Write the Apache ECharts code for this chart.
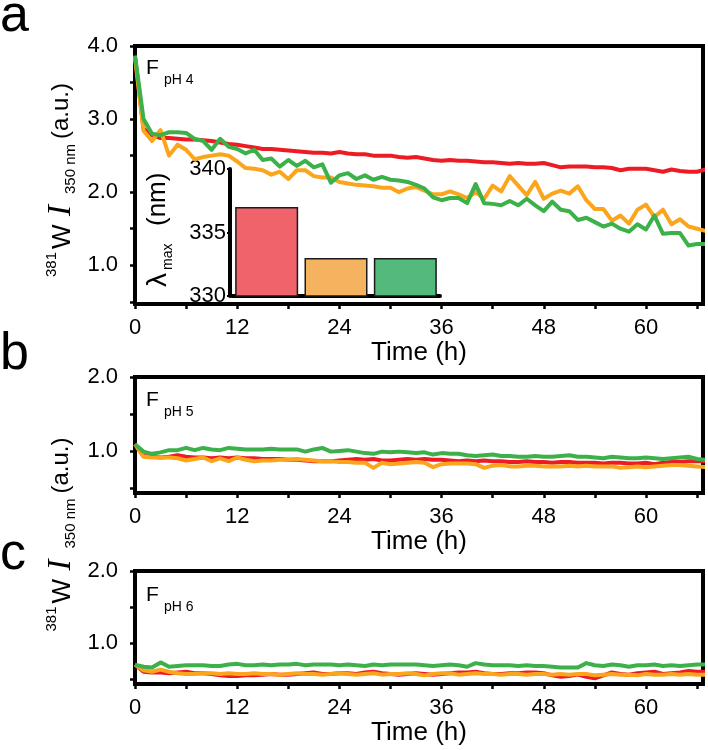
<!DOCTYPE html>
<html><head><meta charset="utf-8">
<script src="https://cdn.jsdelivr.net/npm/echarts@6/dist/echarts.min.js"></script>
<style>html,body{margin:0;padding:0;background:#fff}#c{width:708px;height:750px}</style>
</head><body><div id="c"></div>
<script>
const hours = [0,1,2,3,4,5,6,7,8,9,10,11,12,13,14,15,16,17,18,19,20,21,22,23,24,25,26,27,28,29,30,31,32,33,34,35,36,37,38,39,40,41,42,43,44,45,46,47,48,49,50,51,52,53,54,55,56,57,58,59,60,61,62,63,64,65,66,67];

const aRed = [3.85,2.87,2.78,2.74,2.74,2.73,2.72,2.72,2.71,2.70,
 2.68,2.66,2.65,2.63,2.61,2.59,2.59,2.58,2.57,2.56,
 2.55,2.54,2.54,2.53,2.55,2.53,2.52,2.52,2.50,2.50,
 2.50,2.48,2.47,2.48,2.46,2.44,2.43,2.44,2.43,2.43,
 2.42,2.41,2.41,2.40,2.39,2.40,2.39,2.39,2.40,2.37,
 2.34,2.35,2.35,2.35,2.34,2.34,2.33,2.30,2.32,2.32,
 2.32,2.30,2.28,2.31,2.29,2.28,2.28,2.31];
const aOrange = [3.85,2.84,2.70,2.85,2.50,2.65,2.58,2.45,2.48,2.50,
 2.52,2.50,2.42,2.33,2.32,2.30,2.24,2.28,2.18,2.30,
 2.30,2.22,2.20,2.20,2.14,2.12,2.10,2.09,2.08,2.06,
 2.06,2.00,2.05,2.07,2.02,1.97,1.97,2.01,1.97,1.92,
 2.00,1.91,2.09,2.01,2.22,2.09,1.96,2.14,1.91,1.98,
 2.02,1.98,2.08,1.89,1.77,1.77,1.61,1.68,1.57,1.76,
 1.83,1.66,1.76,1.56,1.63,1.53,1.50,1.47];
const aGreen = [3.87,3.00,2.80,2.78,2.82,2.82,2.81,2.73,2.70,2.58,
 2.73,2.62,2.59,2.53,2.58,2.44,2.46,2.35,2.44,2.36,
 2.43,2.34,2.38,2.13,2.23,2.26,2.18,2.23,2.17,2.21,
 2.17,2.16,2.14,2.10,2.05,1.93,1.89,1.92,1.92,1.85,
 2.11,1.85,1.84,1.82,1.88,1.82,1.91,1.82,1.74,1.87,
 1.76,1.74,1.62,1.65,1.59,1.53,1.57,1.50,1.46,1.56,
 1.49,1.68,1.43,1.44,1.44,1.27,1.29,1.29];

const bRed = [1.09,0.93,0.92,0.91,0.92,0.94,0.92,0.91,0.91,0.90,
 0.91,0.90,0.91,0.90,0.90,0.89,0.89,0.89,0.88,0.88,
 0.87,0.86,0.86,0.86,0.87,0.88,0.89,0.88,0.89,0.87,
 0.87,0.88,0.89,0.88,0.89,0.88,0.88,0.87,0.86,0.87,
 0.86,0.87,0.86,0.86,0.85,0.85,0.86,0.85,0.85,0.84,
 0.85,0.85,0.84,0.84,0.84,0.83,0.84,0.84,0.83,0.83,
 0.84,0.82,0.84,0.85,0.85,0.86,0.86,0.86];
const bOrange = [1.09,0.92,0.91,0.91,0.91,0.90,0.87,0.89,0.91,0.86,
 0.90,0.86,0.91,0.88,0.86,0.87,0.87,0.88,0.88,0.89,
 0.88,0.87,0.86,0.86,0.85,0.85,0.84,0.84,0.77,0.84,
 0.82,0.83,0.84,0.85,0.84,0.78,0.82,0.83,0.83,0.83,
 0.82,0.77,0.80,0.81,0.79,0.79,0.80,0.80,0.79,0.79,
 0.79,0.80,0.79,0.80,0.79,0.79,0.79,0.77,0.78,0.79,
 0.78,0.79,0.80,0.81,0.81,0.80,0.79,0.78];
const bGreen = [1.09,0.99,0.96,0.98,1.01,1.01,1.04,1.01,1.04,1.02,
 1.01,1.04,1.03,1.02,1.02,1.02,1.03,1.02,1.02,1.02,
 0.99,1.02,1.04,0.99,1.00,1.01,0.99,0.97,0.96,0.99,
 0.98,0.99,0.98,0.97,0.98,0.95,0.97,0.96,0.96,0.94,
 0.93,0.94,0.95,0.93,0.93,0.92,0.92,0.93,0.92,0.92,
 0.93,0.94,0.92,0.92,0.91,0.90,0.92,0.91,0.90,0.90,
 0.91,0.90,0.89,0.90,0.91,0.92,0.89,0.88];

const cRed = [0.70,0.60,0.59,0.59,0.58,0.59,0.60,0.58,0.58,0.57,
 0.55,0.54,0.54,0.55,0.55,0.56,0.57,0.56,0.56,0.57,
 0.58,0.59,0.57,0.57,0.58,0.58,0.57,0.59,0.60,0.58,
 0.57,0.56,0.57,0.58,0.57,0.56,0.57,0.58,0.59,0.59,
 0.60,0.58,0.57,0.57,0.58,0.58,0.59,0.59,0.58,0.55,
 0.53,0.54,0.56,0.53,0.51,0.55,0.59,0.57,0.56,0.58,
 0.59,0.60,0.57,0.58,0.59,0.61,0.60,0.60];
const cOrange = [0.70,0.62,0.60,0.63,0.60,0.58,0.57,0.57,0.58,0.58,
 0.57,0.58,0.57,0.57,0.58,0.57,0.57,0.56,0.57,0.58,
 0.57,0.57,0.56,0.57,0.58,0.57,0.56,0.57,0.58,0.56,
 0.57,0.57,0.58,0.57,0.55,0.57,0.58,0.58,0.56,0.57,
 0.58,0.57,0.57,0.56,0.57,0.57,0.56,0.57,0.57,0.56,
 0.57,0.56,0.57,0.57,0.55,0.56,0.57,0.56,0.56,0.55,
 0.57,0.56,0.56,0.57,0.56,0.57,0.56,0.56];
const cGreen = [0.70,0.67,0.66,0.73,0.67,0.68,0.69,0.69,0.69,0.68,
 0.68,0.70,0.71,0.69,0.69,0.70,0.69,0.70,0.70,0.71,
 0.69,0.70,0.70,0.70,0.69,0.70,0.69,0.68,0.70,0.69,
 0.70,0.70,0.70,0.70,0.69,0.68,0.69,0.70,0.69,0.67,
 0.72,0.70,0.69,0.69,0.69,0.68,0.69,0.68,0.68,0.67,
 0.66,0.66,0.66,0.72,0.69,0.68,0.70,0.69,0.67,0.69,
 0.69,0.70,0.68,0.69,0.68,0.69,0.70,0.70];

const insetCats = ['red', 'orange', 'green'];
const insetLambda = [337.0, 333.0, 333.0];

const xLabelTicks = [0, 12, 24, 36, 48, 60];
const xTickMarks = [0, 6, 12, 18, 24, 30, 36, 42, 48, 54, 60, 66];
const yLabelsA = [1, 2, 3, 4];
const yTicksA = [0.5, 1, 1.5, 2, 2.5, 3, 3.5, 4];
const yLabelsBC = [1, 2];
const yTicksBC = [0.5, 1, 1.5, 2];

const LINE_COLORS = ['#ed1c24', '#fba51c', '#3cb14a'];
const BAR_COLORS = ['#f0636a', '#f6b35f', '#54ba7c'];
const FONT = '"Liberation Sans", Arial, sans-serif';

const chart = echarts.init(document.getElementById('c'), null, {renderer: 'canvas'});

function xAx(grid) {
  return {
    type: 'value', gridIndex: grid, min: 0, max: 66.7,
    axisLine: {show: true, onZero: false, lineStyle: {color: '#000', width: 4}},
    axisTick: {show: true, customValues: xTickMarks, length: 5, lineStyle: {color: '#000', width: 2.5}},
    axisLabel: {customValues: xLabelTicks, color: '#000', fontSize: 22, fontFamily: FONT, margin: 13},
    splitLine: {show: false},
    name: 'Time (h)', nameLocation: 'middle', nameGap: 34,
    nameTextStyle: {color: '#000', fontSize: 26, fontFamily: FONT}
  };
}
function yAx(grid, min, max, labels, ticks) {
  return {
    type: 'value', gridIndex: grid, min: min, max: max,
    axisLine: {show: true, onZero: false, lineStyle: {color: '#000', width: 4}},
    axisTick: {show: true, customValues: ticks, length: 5, lineStyle: {color: '#000', width: 2.5}},
    axisLabel: {customValues: labels, formatter: v => Number(v).toFixed(1), color: '#000', fontSize: 22, fontFamily: FONT, margin: 17},
    splitLine: {show: false}
  };
}
function pairs(vals) { return hours.map((h, i) => [h, vals[i]]); }
function lineSeries(vals, colorIdx, xi, yi) {
  return {
    type: 'line', xAxisIndex: xi, yAxisIndex: yi, data: pairs(vals),
    symbol: 'none', showSymbol: false, clip: true, animation: false,
    lineStyle: {color: LINE_COLORS[colorIdx], width: 4, join: 'round'},
    z: 3 + colorIdx
  };
}

function txt(x, y, text, size, extra) {
  return {
    type: 'text', x: x, y: y, z: 100,
    style: Object.assign({text: text, fill: '#000', font: size + 'px ' + FONT, align: 'left', verticalAlign: 'middle'}, extra || {})
  };
}
function serif(x, y, text, size) {
  return {type: 'text', x: x, y: y, z: 100,
    style: {text: text, fill: '#000', font: 'italic ' + size + 'px "Liberation Serif", "Times New Roman", serif', align: 'left', verticalAlign: 'middle'}};
}
function yTitle(cx, cy) {
  return {
    type: 'group', x: cx, y: cy, rotation: Math.PI / 2, z: 100,
    children: [
      txt(-97, -20, '381', 15),
      txt(-69, -9, 'W', 26),
      serif(-36, -11, 'I', 33),
      txt(-14, -1.5, '350 nm', 15),
      txt(41, -10.5, '(a.u.)', 24)
    ]
  };
}

const gridFrame = {show: true, borderColor: '#000', borderWidth: 4, backgroundColor: 'transparent'};

const option = {
  backgroundColor: '#fff',
  animation: false,
  grid: [
    Object.assign({left: 135, top: 46, width: 568, height: 258}, gridFrame),
    {left: 232, top: 169, width: 208, height: 127},
    Object.assign({left: 135, top: 377, width: 568, height: 116}, gridFrame),
    Object.assign({left: 135, top: 571, width: 568, height: 113}, gridFrame)
  ],
  xAxis: [
    xAx(0),
    {type: 'category', gridIndex: 1, data: insetCats, boundaryGap: true,
     axisLine: {show: true, lineStyle: {color: '#000', width: 4}}, axisTick: {show: false}, axisLabel: {show: false}, splitLine: {show: false}},
    xAx(2),
    xAx(3)
  ],
  yAxis: [
    yAx(0, 0.47, 4.0, yLabelsA, yTicksA),
    {type: 'value', gridIndex: 1, min: 330, max: 340, interval: 5, offset: 2,
     axisLine: {show: true, lineStyle: {color: '#000', width: 4}},
     axisTick: {show: true, length: 3, lineStyle: {color: '#000', width: 2}},
     axisLabel: {color: '#000', fontSize: 22, fontFamily: FONT, margin: 4},
     splitLine: {show: false}},
    yAx(2, 0.43, 2.0, yLabelsBC, yTicksBC),
    yAx(3, 0.43, 2.0, yLabelsBC, yTicksBC)
  ],
  series: [
    lineSeries(aRed, 0, 0, 0), lineSeries(aOrange, 1, 0, 0), lineSeries(aGreen, 2, 0, 0),
    {type: 'bar', xAxisIndex: 1, yAxisIndex: 1, barWidth: 63, z: 10,
     data: insetLambda.map((v, i) => ({value: v, itemStyle: {color: BAR_COLORS[i]}})),
     itemStyle: {borderColor: '#1a1a1a', borderWidth: 1.5}},
    lineSeries(bRed, 0, 2, 2), lineSeries(bOrange, 1, 2, 2), lineSeries(bGreen, 2, 2, 2),
    lineSeries(cRed, 0, 3, 3), lineSeries(cOrange, 1, 3, 3), lineSeries(cGreen, 2, 3, 3)
  ],
  graphic: [
    txt(0, 17, 'a', 52),
    txt(0, 355, 'b', 52),
    txt(0, 555, 'c', 52),
    txt(146, 68, 'F', 21), txt(164, 80, 'pH 4', 14),
    txt(146, 400, 'F', 21), txt(164, 412, 'pH 5', 14),
    txt(146, 595, 'F', 21), txt(164, 607, 'pH 6', 14),
    yTitle(72, 180),
    yTitle(72, 534.5),
    {
      type: 'group', x: 167, y: 228, rotation: Math.PI / 2, z: 100,
      children: [
        txt(-59, -9, 'λ', 28),
        txt(-42, 1, 'max', 14),
        txt(2, -9, '(nm)', 26)
      ]
    }
  ]
};
chart.setOption(option);
</script>
</body></html>
